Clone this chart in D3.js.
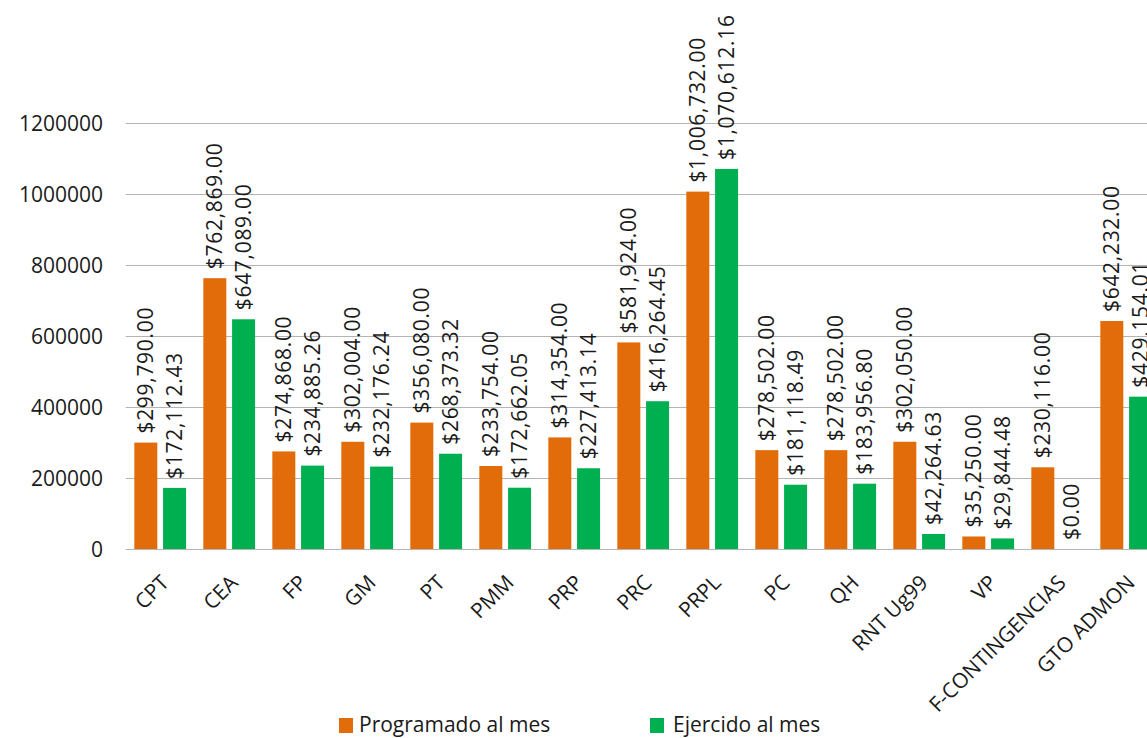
<!DOCTYPE html>
<html>
<head>
<meta charset="utf-8">
<script src="https://cdn.jsdelivr.net/npm/d3@7"></script>
<style>
  body { margin: 0; background: #fff; }
  svg text { font-family: "Open Sans", sans-serif; fill: #1a1a1a; }
</style>
</head>
<body>
<div id="chart"></div>
<script>
var categories = ['CPT', 'CEA', 'FP', 'GM', 'PT', 'PMM', 'PRP', 'PRC', 'PRPL', 'PC', 'QH', 'RNT Ug99', 'VP', 'F-CONTINGENCIAS', 'GTO ADMON'];
var programado = [299790.00, 762869.00, 274868.00, 302004.00, 356080.00, 233754.00, 314354.00, 581924.00, 1006732.00, 278502.00, 278502.00, 302050.00, 35250.00, 230116.00, 642232.00];
var ejercido = [172112.43, 647089.00, 234885.26, 232176.24, 268373.32, 172662.05, 227413.14, 416264.45, 1070612.16, 181118.49, 183956.80, 42264.63, 29844.48, 0.00, 429154.01];
var seriesNames = ['Programado al mes', 'Ejercido al mes'];
var yTicks = [0, 200000, 400000, 600000, 800000, 1000000, 1200000];

var colors = ['#e36c0a', '#00b050'];
var W = 1147, H = 738;

var svg = d3.select('#chart').append('svg')
    .attr('width', W)
    .attr('height', H);

var x0 = d3.scaleBand()
    .domain(categories)
    .range([125.7, 125.7 + categories.length * 69]);

var x1 = d3.scaleBand()
    .domain(seriesNames)
    .range([x0.bandwidth() * 0.125, x0.bandwidth() * 0.875])
    .paddingInner(0.2);

var y = d3.scaleLinear()
    .domain([0, 1200000])
    .range([549, 123]);

// grid lines + y labels
var grid = svg.append('g');
grid.selectAll('line')
    .data(yTicks)
    .enter().append('line')
    .attr('x1', x0.range()[0])
    .attr('x2', x0.range()[1])
    .attr('y1', function(d) { return y(d) + 0.5; })
    .attr('y2', function(d) { return y(d) + 0.5; })
    .attr('stroke', '#b4b4b4')
    .attr('stroke-width', 1.2);

var fmtTick = d3.format('d');
grid.selectAll('text')
    .data(yTicks)
    .enter().append('text')
    .attr('x', 103)
    .attr('y', function(d) { return y(d); })
    .attr('dy', '0.36em')
    .attr('text-anchor', 'end')
    .style('font-size', '21px')
    .text(function(d) { return fmtTick(d); });

var rows = categories.map(function(c, i) {
    return { cat: c, values: [programado[i], ejercido[i]] };
});

var groups = svg.selectAll('g.cat')
    .data(rows)
    .enter().append('g')
    .attr('class', 'cat')
    .attr('transform', function(d) { return 'translate(' + x0(d.cat) + ',0)'; });

var fmtVal = d3.format(',.2f');

groups.selectAll('rect')
    .data(function(d) {
        return d.values.map(function(v, j) { return { s: seriesNames[j], v: v, j: j }; });
    })
    .enter().append('rect')
    .attr('x', function(d) { return x1(d.s); })
    .attr('width', x1.bandwidth())
    .attr('y', function(d) { return y(d.v); })
    .attr('height', function(d) { return y(0) - y(d.v); })
    .attr('fill', function(d) { return colors[d.j]; });

groups.selectAll('text.val')
    .data(function(d) {
        return d.values.map(function(v, j) { return { s: seriesNames[j], v: v, j: j }; });
    })
    .enter().append('text')
    .attr('class', 'val')
    .attr('transform', function(d) {
        return 'translate(' + (x1(d.s) + x1.bandwidth() / 2) + ',' + (y(d.v) - 9) + ') rotate(-90)';
    })
    .attr('dy', '0.36em')
    .style('font-size', '21px')
    .style('letter-spacing', '0.7px')
    .text(function(d) { return '$' + fmtVal(d.v); });

// category labels
svg.append('g').selectAll('text')
    .data(categories)
    .enter().append('text')
    .attr('transform', function(d) {
        return 'translate(' + (x0(d) + x0.bandwidth() / 2 + 10) + ',584) rotate(-45)';
    })
    .attr('text-anchor', 'end')
    .style('font-size', '21px')
    .text(function(d) { return d; });

// legend
var legendX = [339, 650];
var legend = svg.append('g').selectAll('g')
    .data(seriesNames)
    .enter().append('g')
    .attr('transform', function(d, i) { return 'translate(' + legendX[i] + ',718)'; });
legend.append('rect')
    .attr('width', 14)
    .attr('height', 15)
    .attr('fill', function(d, i) { return colors[i]; });
legend.append('text')
    .attr('x', function(d, i) { return i === 0 ? 20 : 23; })
    .attr('y', 14)
    .style('font-size', '21px')
    .text(function(d) { return d; });
</script>
</body>
</html>
